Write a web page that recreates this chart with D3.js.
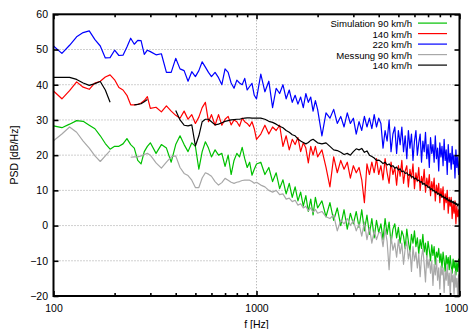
<!DOCTYPE html>
<html><head><meta charset="utf-8">
<script src="https://cdn.jsdelivr.net/npm/d3@7"></script>
<style>
body{margin:0;background:#fff}
svg{display:block}
text{font-family:"Liberation Sans",Arial,Helvetica,sans-serif;font-size:10.5px;fill:#000}
</style>
</head><body>
<svg id="chart" width="471" height="329"></svg>
<script>
const freq = [100,110,120,130,140,150,160,170,180,190,200,210,220,230,240,250,260,270,280,290,300,
320,340,360,380,400,420,440,460,480,500,520,540,560,580,600,
625,650,675,700,725,750,775,800,825,850,875,900,925,950,975,1000,
1050,1100,1150,1200,1250,1300,1350,1400,1450,1500,1550,1600,1650,1700,1750,1800,1850,1900,1950,2000,
2100,2200,2300,2400,2500,2600,2700,2800,2900,3000,3100,3200,3300,3400,3500,3600,3700,3800,3900,4000,
4100,4200,4300,4400,4500,4600,4700,4800,4900,5000,
5100,5200,5300,5400,5500,5600,5700,5800,5900,6000,
6100,6200,6300,6400,6500,6600,6700,6800,6900,7000,
7100,7200,7300,7400,7500,7600,7700,7800,7900,8000,
8100,8200,8300,8400,8500,8600,8700,8800,8900,9000,
9100,9200,9300,9400,9500,9600,9700,9800,9900,10000];

const sim90 = [28.3,27.8,28.8,29.8,29.6,28.5,27.5,25.5,23.3,21.7,22.5,22.5,23.2,24.7,23,22,18.5,17.5,21,22.5,23.5,
20.5,23,22,18,23,25.5,23,21,23.5,22.5,16,21,23.8,22,19.5,
21.5,20,20.5,16.8,20,14.5,18.5,20.5,19.5,22.2,19,16.5,18,14.3,16,17.5,
18,14.5,16.5,12.5,15,10.5,13,9,12,8,11,7,9.5,5.5,8.5,4,7.5,3,8,5,
7,2.5,6.5,1.5,5,0,4.5,-1,3.5,0.5,4,-0.5,4.5,-1.5,3,-2.5,2,-3.5,1.5,-2,
0.5,-4,2,-2.5,1,-5,-1,0.5,-3.5,-0.5,
-5,-1.5,-3,-6.5,-1,-4.5,-7.5,-2.5,-5,-1.5,
-6,-3.5,-8,-4,-6.5,-2.5,-7.5,-5,-9,-4.5,
-7,-10,-5.5,-8.5,-6,-11,-7.5,-9,-6.5,-10.5,
-8,-12,-7.5,-10,-13,-8.5,-11,-9,-12.5,-8.5,
-11.5,-13.5,-9.5,-12,-10,-14,-10.5,-13,-9.5,-12];

const sim140 = [38.2,36,38.3,40.8,39.3,38.7,40.5,41,42.2,42.8,41.4,39.2,38.5,37,34.3,34.3,34.4,34.8,35.5,36.6,33.3,
33.6,32.3,34,32.5,31.3,30.5,32.5,30.2,31.5,29,30.8,33.5,35,29.5,31.5,
28.5,31.5,28.5,30.2,31,28.6,30,29.5,28.2,30.5,29.5,29,28.2,29.5,27.5,24.5,
26,28.5,26,28,27,28.5,22.5,25.5,21.5,24.5,23,25,21,23.5,22,17.8,22.5,20,22.5,19.5,
21.5,16.5,11,19.5,15,18.5,16,18,13.5,17,15,16.5,13,6.5,17.5,14.5,18,15,19,14.5,
17,13,19,15,12,18,14.5,16.5,11.5,17,
14,18.5,12,15.5,17,11,16,13.5,17.5,10.5,
15,12.5,16.5,10,14,12,16,9.5,13.5,11,
14.5,8.5,12.5,10,13.5,7,11.5,9,12,6.5,
10.5,8,11,4.5,9,6.5,10,3.5,8,5.5,
8,2,6.5,3.5,7,0.5,5.5,2.5,4.5,1];

const sim220 = [51,48.9,51.2,53.6,54.8,55.3,52.8,51,47.6,47.7,49.8,48.3,48.4,50.7,53.2,51.5,52.6,52.5,48.6,49.8,49.4,
48.5,48.8,43.5,43.5,47.5,44.5,44,41,43.7,42.3,44,46.5,45,43.5,42.3,
43.5,42,40,44.5,43.5,40.5,39,41.3,40.5,40,41.8,38.5,39.5,40.4,37,36,
43,38,41,33.5,39,37.5,40,36,38.5,35,37,34.5,36.5,33.5,37.5,35,36.5,32.5,35.5,33,
25.5,32,30.5,33,29,31,28,32,29,30.5,26,29.5,27,31,28,30.5,27.5,31.5,28,30.5,
29,22,27,24,30,21,26,28,20.5,27,
23,28,21,25.5,19,27,22,26,18.5,24,
27,20,23.5,26,18,24,21,26.5,19,23,
16.5,25,20.5,23,18,25.5,19,22,15.5,23.5,
19.5,22.5,17,24.5,18.5,21.5,14.5,23,18,20.5,
16,22.5,17.5,20,13.5,21.5,16.5,19.5,14.5,18.5];

const mes90 = [24.1,26,28,26.5,24,22,19.8,18.2,19.8,21.3,null,null,null,null,19.4,19.5,19.5,19.8,20.2,20.5,20,
17.8,16.3,18,19.5,19.8,16.5,14.8,14.2,12.9,10.8,10.8,13.5,15,14.6,14,
12.5,11.5,12.2,13.4,12.9,12.3,12,12.3,12.5,12.8,12.9,12.9,12.9,12.5,12,12.3,
11.5,11,10,9.5,10,8.8,9,7.5,7.8,6.8,7.2,5.8,6.2,5,5.5,4.2,5,3.8,4.6,3.5,
4,2.5,2,3,-1.5,1.5,0.5,2,0,1.5,-1.5,0.5,-3,1,-4,-0.5,-5,-1.5,-4,-2,
-2,-6,-1,-4.5,-12.5,-3,-7,-5,-9,-4,
-8,-5,-11,-6.5,-4.5,-9.5,-7,-13,-6,-10,
-7.5,-12,-8,-14.5,-9,-6.5,-11,-16,-8.5,-12,
-9.5,-13.5,-10,-17,-11,-14,-9.5,-15.5,-12,-18,
-11.5,-14,-12,-19,-13,-15.5,-11,-17,-13.5,-20,
-12.5,-16,-14,-19.5,-13,-17.5,-15,-20,-14,-16];

const mes140 = [42.1,42.1,42.1,41.5,40.5,39.8,40.3,40.9,38.5,35,null,null,null,null,null,34.3,34.4,34.6,35.2,35.8,null,
null,null,null,null,32.7,30,28.5,28.3,28.6,22.6,25.5,29.5,30.2,30.2,29.5,
28.6,28.8,29.2,29.6,29.8,30,30.1,30.2,30.2,30.4,30.5,30.6,30.6,30.5,30.5,30.5,
30.5,30.2,29.6,29.3,28.8,28.2,27.8,27,26.5,25.8,25.5,24.6,24,23.6,23.2,23.6,24.2,24.5,24,23.5,
23.2,23.5,22.5,21.5,21.3,20.8,20.2,20.5,20,21,21.8,21.5,21.9,20.8,21.2,20,19.6,19.2,18.5,18.6,
18.2,17.6,18,17.2,17.5,16.8,17,16.3,16.6,15.8,
16.1,15.3,15.5,14.8,15,14.3,14.5,13.8,13.9,13.2,
13.5,12.8,12.9,12.3,12.5,11.7,12,11.3,11.5,10.8,
11,10.2,10.5,9.8,10,9.3,9.6,8.9,9.2,8.5,
8.9,8.1,8.4,7.8,8.1,7.4,7.8,7,7.3,6.7,
7.2,6.5,6.9,6.2,6.6,5.9,6.3,5.6,6.1,5.8];

const seriesNames = ["Simulation 90 km/h","140 km/h","220 km/h","Messung 90 km/h","140 km/h"];
const seriesColors = ["#00c000","#ff0000","#0000ff","#a8a8a8","#000000"];
const seriesValues = [sim90, sim140, sim220, mes90, mes140];

const xMajorTicks = [100,1000,10000];
const xMajorLabels = ["100","1000","1000"];
const xMinorTicks = [200,300,400,500,600,700,800,900,2000,3000,4000,5000,6000,7000,8000,9000];
const yTicks = [-20,-10,0,10,20,30,40,50,60];
const xTitle = "f [Hz]";
const yTitle = "PSD [dB/Hz]";

const L = 53.5, R = 459.5, T = 14.3, B = 296;
const svg = d3.select("#chart");
const x = d3.scaleLog().domain([100,10000]).range([L,R]);
const y = d3.scaleLinear().domain([-20,60]).range([B,T]);

svg.append("defs").append("clipPath").attr("id","clip")
  .append("rect").attr("x",L).attr("y",T).attr("width",R-L).attr("height",B-T);

// grid
const grid = svg.append("g");
grid.selectAll("line.h").data(yTicks.slice(1,-1)).join("line")
  .attr("x1",L).attr("x2",R).attr("y1",d=>y(d)).attr("y2",d=>y(d))
  .attr("stroke","#a0a0a0").attr("stroke-width",1).attr("stroke-dasharray","1,2");
grid.append("line").attr("x1",x(1000)).attr("x2",x(1000)).attr("y1",T).attr("y2",B)
  .attr("stroke","#a0a0a0").attr("stroke-width",1).attr("stroke-dasharray","1,2");

// legend background
svg.append("rect").attr("x",299).attr("y",T+1).attr("width",R-299-1).attr("height",56).attr("fill","#fff");

// data lines
const plot = svg.append("g").attr("clip-path","url(#clip)");
seriesValues.forEach((vals,i)=>{
  const pts = freq.map((f,j)=>[f,vals[j]]);
  const line = d3.line().defined(d=>d[1]!==null).x(d=>x(d[0])).y(d=>y(d[1]));
  plot.append("path").datum(pts).attr("d",line).attr("fill","none")
    .attr("stroke",seriesColors[i]).attr("stroke-width",1.2).attr("stroke-linejoin","round");
});

// axes
function styleAxis(g){ g.select(".domain").remove(); g.selectAll(".tick line").attr("stroke","#000").attr("stroke-width",1.6); g.selectAll("text").style("font-size","10.5px").attr("fill","#000"); }
svg.append("g").attr("transform",`translate(0,${B})`)
  .call(d3.axisBottom(x).tickValues(xMajorTicks).tickFormat((d,i)=>xMajorLabels[i]).tickSize(-5).tickPadding(8.5))
  .call(styleAxis).call(g=>g.selectAll("text").filter((d,i)=>i===2).attr("dx",-3.5));
svg.append("g").attr("transform",`translate(0,${B})`)
  .call(d3.axisBottom(x).tickValues(xMinorTicks).tickFormat("").tickSize(-3)).call(styleAxis);
svg.append("g").attr("transform",`translate(0,${T})`)
  .call(d3.axisTop(x).tickValues(xMajorTicks).tickFormat("").tickSize(-5)).call(styleAxis);
svg.append("g").attr("transform",`translate(0,${T})`)
  .call(d3.axisTop(x).tickValues(xMinorTicks).tickFormat("").tickSize(-3)).call(styleAxis);
svg.append("g").attr("transform",`translate(${L},0)`)
  .call(d3.axisLeft(y).tickValues(yTicks).tickSize(-5).tickPadding(5.5)).call(styleAxis);
svg.append("g").attr("transform",`translate(${R},0)`)
  .call(d3.axisRight(y).tickValues(yTicks).tickFormat("").tickSize(-5)).call(styleAxis);

// frame
svg.append("rect").attr("x",L).attr("y",T).attr("width",R-L).attr("height",B-T)
  .attr("fill","none").attr("stroke","#000").attr("stroke-width",2);

// titles
svg.append("text").attr("x",(L+R)/2).attr("y",323.5).attr("text-anchor","middle")
  .attr("dominant-baseline","central").text(xTitle);
svg.append("text").attr("transform",`translate(14,${(T+B)/2}) rotate(-90)`)
  .attr("text-anchor","middle").attr("dominant-baseline","central").text(yTitle);

// legend
const lg = svg.append("g");
seriesNames.forEach((n,i)=>{
  const yy = 23.6 + i*10.5;
  lg.append("text").attr("x",412).attr("y",yy).attr("text-anchor","end")
    .attr("dominant-baseline","central").style("font-size","9.6px").text(n);
  lg.append("line").attr("x1",418).attr("x2",447).attr("y1",yy-0.5).attr("y2",yy-0.5)
    .attr("stroke",seriesColors[i]).attr("stroke-width",1.2);
});
</script>
</body></html>
